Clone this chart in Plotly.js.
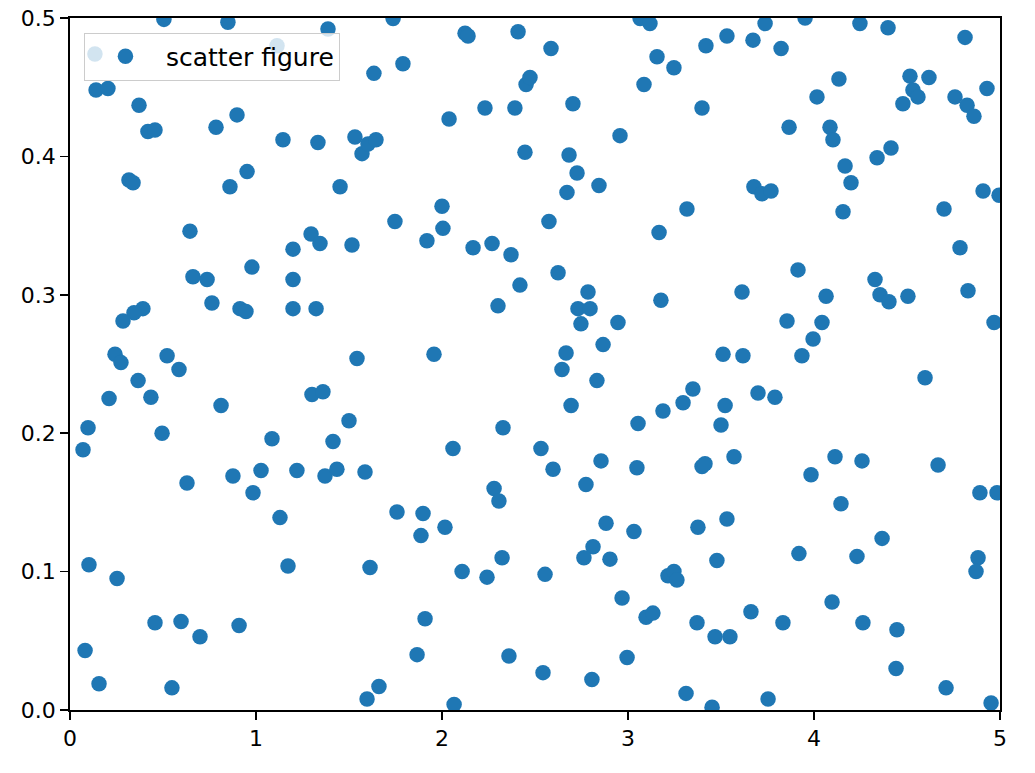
<!DOCTYPE html>
<html>
<head>
<meta charset="utf-8">
<script src="https://cdn.plot.ly/plotly-3.0.1.min.js"></script>
<style>
  html, body { margin: 0; padding: 0; background: #fff; }
  #chart { width: 1035px; height: 773px; }
</style>
</head>
<body>
<div id="chart"></div>
<script>
// values
var xs = [0.140,0.204,0.134,1.113,0.505,0.849,0.371,0.419,0.457,0.785,0.898,1.145,0.317,0.339,0.860,0.952,0.645,1.199,
  1.387,1.737,2.124,2.140,2.409,1.790,1.634,2.452,2.473,2.038,2.231,2.392,2.446,1.333,1.532,1.570,1.602,1.645,1.452,2.000,1.747,2.005,1.296,1.344,1.516,1.919,2.167,2.269,2.371,
  3.065,3.118,2.586,3.156,3.247,3.419,3.532,3.672,3.086,3.398,2.704,2.957,2.683,2.726,2.672,2.844,3.677,3.720,3.317,2.575,3.167,
  3.737,3.952,3.823,4.247,4.398,4.812,4.134,4.016,4.516,4.618,4.532,4.559,4.478,4.758,4.823,4.860,4.930,3.866,4.086,4.102,4.339,4.414,4.167,4.199,3.769,4.909,4.995,4.156,4.699,4.785,
  0.978,0.661,0.737,1.199,0.763,0.914,0.946,1.199,0.392,0.344,0.285,0.242,0.274,0.522,0.586,0.366,0.210,0.435,0.812,0.097,0.070,0.495,1.086,0.629,0.876,1.027,1.220,
  1.323,2.419,2.301,1.543,1.957,1.301,1.360,1.500,1.414,2.059,2.328,1.371,1.435,1.586,
  2.624,2.785,2.731,2.796,2.747,2.946,2.866,2.667,2.645,2.833,2.694,3.177,3.613,3.511,3.618,3.349,3.296,3.188,3.522,3.500,3.054,2.532,2.597,2.855,3.048,3.398,3.414,3.570,
  3.914,4.065,4.328,4.355,4.403,4.505,4.828,4.968,3.855,4.043,3.995,3.935,4.597,3.699,3.790,4.113,4.258,4.667,3.984,
  0.984,1.129,0.102,0.253,1.172,0.457,0.597,0.699,0.909,0.081,0.156,0.548,
  2.280,2.306,1.758,1.898,1.887,2.016,1.613,2.108,2.242,2.323,1.909,1.866,2.360,1.661,1.597,2.065,
  2.774,2.882,3.032,2.812,2.763,2.903,2.554,3.376,3.532,3.478,3.215,3.247,3.263,2.968,3.097,3.134,3.371,3.468,3.548,3.661,2.995,2.543,2.806,3.312,3.452,
  4.145,4.892,4.984,4.366,3.919,4.231,4.882,4.871,4.097,3.833,4.263,4.446,4.441,4.710,3.753,4.952];

var ys = [0.448,0.449,0.474,0.480,0.499,0.497,0.437,0.418,0.419,0.421,0.430,0.412,0.383,0.381,0.378,0.389,0.346,0.333,
  0.492,0.4996,0.489,0.487,0.490,0.467,0.460,0.452,0.457,0.427,0.435,0.435,0.403,0.410,0.414,0.402,0.409,0.412,0.378,0.364,0.353,0.348,0.344,0.337,0.336,0.339,0.334,0.337,0.329,
  0.4996,0.496,0.478,0.472,0.464,0.480,0.487,0.484,0.452,0.435,0.438,0.415,0.401,0.388,0.374,0.379,0.378,0.373,0.362,0.353,0.345,
  0.496,0.500,0.478,0.496,0.493,0.486,0.456,0.443,0.458,0.457,0.448,0.443,0.438,0.443,0.437,0.429,0.449,0.421,0.421,0.412,0.399,0.406,0.393,0.381,0.375,0.375,0.372,0.360,0.362,0.334,
  0.320,0.313,0.311,0.311,0.294,0.290,0.288,0.290,0.290,0.287,0.281,0.257,0.251,0.256,0.246,0.238,0.225,0.226,0.220,0.204,0.188,0.200,0.196,0.164,0.169,0.173,0.173,
  0.290,0.307,0.292,0.254,0.257,0.228,0.230,0.209,0.194,0.189,0.204,0.169,0.174,0.172,
  0.316,0.302,0.290,0.290,0.279,0.280,0.264,0.258,0.246,0.238,0.220,0.296,0.302,0.257,0.256,0.232,0.222,0.216,0.220,0.206,0.207,0.189,0.174,0.180,0.175,0.176,0.178,0.183,
  0.318,0.299,0.311,0.300,0.295,0.299,0.303,0.280,0.281,0.280,0.268,0.256,0.240,0.229,0.226,0.183,0.180,0.177,0.170,
  0.157,0.139,0.105,0.095,0.104,0.063,0.064,0.053,0.061,0.043,0.019,0.016,
  0.160,0.151,0.143,0.142,0.126,0.132,0.103,0.100,0.096,0.110,0.066,0.040,0.039,0.017,0.008,0.004,
  0.163,0.135,0.129,0.118,0.110,0.109,0.098,0.132,0.138,0.108,0.097,0.100,0.094,0.081,0.067,0.070,0.063,0.053,0.053,0.071,0.038,0.027,0.022,0.012,0.002,
  0.149,0.157,0.157,0.124,0.113,0.111,0.110,0.100,0.078,0.063,0.063,0.058,0.030,0.016,0.008,0.005];

var seriesName = 'scatter figure';
var xTicks = [0, 1, 2, 3, 4, 5];
var yTicks = [0.0, 0.1, 0.2, 0.3, 0.4, 0.5];

var data = [{
  x: xs, y: ys, type: 'scatter', mode: 'markers', name: seriesName,
  marker: {color: '#1f77b4', size: 15.5, line: {width: 0}},
  hoverinfo: 'x+y'
}];

var axisStyle = {
  showgrid: false, zeroline: false,
  showline: true, mirror: true, linecolor: '#000', linewidth: 1.8,
  ticks: 'outside', ticklen: 8, tickwidth: 1.8, tickcolor: '#000',
  tickfont: {family: 'DejaVu Sans', size: 22, color: '#000'}
};

var layout = {
  width: 1035, height: 773,
  margin: {l: 70, r: 35, t: 18, b: 63},
  paper_bgcolor: '#fff', plot_bgcolor: '#fff',
  showlegend: true,
  xaxis: Object.assign({}, axisStyle, {range: [0, 5], tickvals: xTicks, ticktext: xTicks.map(String)}),
  yaxis: Object.assign({}, axisStyle, {range: [0, 0.5], tickvals: yTicks, ticktext: yTicks.map(v => v.toFixed(1))}),
  legend: {
    x: 0.015, y: 0.979, xanchor: 'left', yanchor: 'top',
    bgcolor: 'rgba(255,255,255,0.8)', bordercolor: '#cccccc', borderwidth: 1,
    font: {family: 'DejaVu Sans', size: 25, color: '#000'},
    itemwidth: 71
  }
};

Plotly.newPlot('chart', data, layout, {displayModeBar: false, staticPlot: true});
</script>
</body>
</html>
